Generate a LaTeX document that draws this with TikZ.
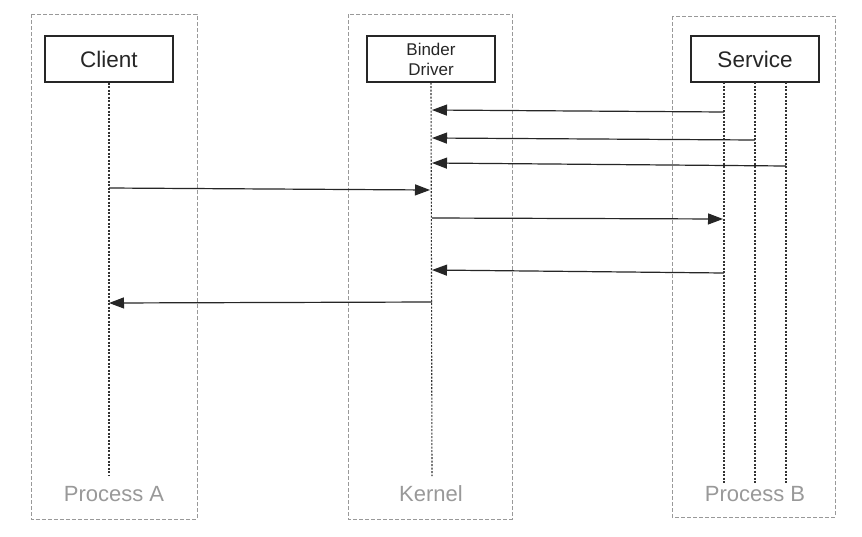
\documentclass[tikz,border=0pt]{standalone}
\usepackage{fontspec}
\setmainfont{Liberation Sans}
\usetikzlibrary{arrows.meta}
\begin{document}
\begin{tikzpicture}[x=1pt,y=-1pt,
  container/.style={draw=black!40, dash pattern=on 4pt off 2pt, line width=0.8pt},
  actor/.style={draw=black!85, line width=1.3pt, minimum width=128pt, minimum height=46pt, inner sep=0pt, align=center, text=black!85},
  lifeline/.style={draw=black!80, line width=1.1pt, dash pattern=on 2pt off 1.5pt},
  msg/.style={draw=black!85, line width=1.2pt, -{Triangle[length=15pt,width=11pt]}},
  plabel/.style={text=black!40, font=\fontsize{22}{24}\selectfont}
]
\useasboundingbox (0,0) rectangle (862,536);
\fill[white] (0,0) rectangle (862,536);
% containers
\draw[container] (31,14) rectangle (197,519);
\draw[container] (348,14) rectangle (512,519);
\draw[container] (672,16) rectangle (835,517);
% actor boxes
\node[actor, font=\fontsize{22.5}{24}\selectfont] (client) at (109,59) {Client};
\node[actor, font=\fontsize{17}{20}\selectfont] (binder) at (431,59) {Binder\\Driver};
\node[actor, font=\fontsize{22.5}{24}\selectfont] (service) at (755,59) {Service};
% lifeline ends
\coordinate (cEnd) at (109,476);
\coordinate (kEnd) at (432,476);
\coordinate (s1Top) at (724,82);
\coordinate (s2Top) at (755,82);
\coordinate (s3Top) at (786,82);
\coordinate (s1End) at (724,484);
\coordinate (s2End) at (755,484);
\coordinate (s3End) at (786,484);
\draw[lifeline] (client.south) -- (cEnd);
\draw[lifeline] (binder.south) -- (kEnd);
\draw[lifeline] (s1Top) -- (s1End);
\draw[lifeline] (s2Top) -- (s2End);
\draw[lifeline] (s3Top) -- (s3End);
% labels
\node[plabel] (pa) at (114,494) {Process A};
\node[plabel] (kn) at (431,494) {Kernel};
\node[plabel] (pb) at (755,494) {Process B};
% message points
\coordinate (a1s) at (724,112); \coordinate (a1e) at (432,110);
\coordinate (a2s) at (755,140); \coordinate (a2e) at (432,138);
\coordinate (a3s) at (786,166); \coordinate (a3e) at (432,163);
\coordinate (a4s) at (109,188); \coordinate (a4e) at (430,190);
\coordinate (a5s) at (432,218); \coordinate (a5e) at (723,219);
\coordinate (a6s) at (724,273); \coordinate (a6e) at (432,270);
\coordinate (a7s) at (432,302); \coordinate (a7e) at (109,303);
\draw[msg] (a1s) -- (a1e);
\draw[msg] (a2s) -- (a2e);
\draw[msg] (a3s) -- (a3e);
\draw[msg] (a4s) -- (a4e);
\draw[msg] (a5s) -- (a5e);
\draw[msg] (a6s) -- (a6e);
\draw[msg] (a7s) -- (a7e);
\end{tikzpicture}
\end{document}
